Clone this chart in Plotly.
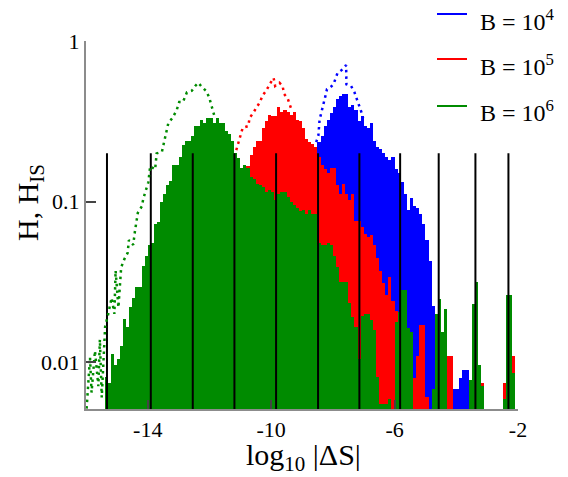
import numpy as np
import plotly.graph_objects as go

# ---------------- data ----------------
BIN = 0.1  # histogram bin width in log10|dS|

# log10 of histogram height H, one value per bin, starting at the given left edge
GREEN_X0 = -15.4
GREEN_LOGH = [
    -2.09, -2.13, -1.95, -2.02, -1.98, -1.90, -1.73, -1.78, -1.66, -1.60,
    -1.53, -1.53, -1.40, -1.34, -1.27, -1.26, -1.14, -1.13, -1.00, -0.95,
    -0.90, -0.87, -0.77, -0.77, -0.72, -0.65, -0.62, -0.62, -0.59, -0.53,
    -0.53, -0.49, -0.51, -0.48, -0.48, -0.51, -0.48, -0.51, -0.51, -0.56,
    -0.58, -0.62, -0.70, -0.73, -0.79, -0.77, -0.79, -0.85, -0.86, -0.89,
    -0.90, -0.91, -0.94, -0.93, -0.94, -0.99, -0.95, -0.94, -0.94, -0.97,
    -1.00, -1.02, -1.04, -1.06, -1.05, -1.08, -1.05, -1.08, -1.08, -1.26,
    -1.27, -1.27, -1.26, -1.27, -1.34, -1.41, -1.50, -1.50, -1.50, -1.63,
    -1.72, -1.78, -1.98, -1.71, -1.70, -1.70, -1.74, -1.80, -2.09, -2.26,
    -2.26, -2.26, -2.23, None, -1.75, -1.69, -1.55, -1.55, -1.79, -1.81,
    None, None, None, None, None, None, -2.17, -1.70, -1.61, -1.81,
    -1.67, None, None, None, None, None, None, None, -2.11, -1.64,
    -1.50, -2.02, -2.15, None, None, None, None, None, None, -2.23,
    -1.58, -1.58, -2.07,
]

RED_X0 = -11.1
RED_LOGH = [
    -0.95, -0.90, -0.80, -0.78, -0.71, -0.66, -0.62, -0.62, -0.54, -0.50,
    -0.46, -0.47, -0.47, -0.41, -0.44, -0.43, -0.44, -0.46, -0.44, -0.49,
    -0.50, -0.54, -0.61, -0.63, -0.64, -0.66, -0.72, -0.77, -0.80, -0.82,
    -0.79, -0.79, -0.90, -0.95, -0.89, -0.95, -0.99, -0.95, -1.12, -1.12,
    -1.16, -1.20, -1.22, -1.21, -1.27, -1.35, -1.43, -1.51, -1.58, -1.47,
    -1.62, -1.68, -1.69, -1.75, -1.85, -1.98, -1.98, -2.10, -1.96, -1.77,
    -1.77, -2.22, None, None, None, None, None, -2.09, -1.96, -1.96,
    None, None, None, None, None, None, -1.90, -2.00, -2.02, -2.13,
    None, None, None, None, None, None, -2.13, -1.90, -1.90, -1.96,
]

BLUE_X0 = -8.6
BLUE_LOGH = [
    -0.70, -0.63, -0.59, -0.53, -0.49, -0.45, -0.41, -0.36, -0.34, -0.33,
    -0.33, -0.41, -0.40, -0.43, -0.50, -0.47, -0.53, -0.54, -0.51, -0.62,
    -0.66, -0.67, -0.70, -0.72, -0.74, -0.72, -0.80, -0.82, -0.88, -0.95,
    -1.05, -0.98, -1.03, -1.04, -1.08, -1.14, -1.24, -1.37, -1.65, -2.20,
    None, None, None, None, None, -2.17, -2.17, -2.10, -2.05, -2.05,
    -2.28, None, None, None, None, None, None, None, None, None,
    None, -2.27,
]

# dotted curves (H_IS): x = log10|dS|, value = log10 H_IS
GREEN_IS_X = [-15.98, -15.87, -15.82, -15.71, -15.60, -15.55, -15.49, -15.38, -15.28, -15.17,
              -15.08, -15.04, -14.95, -14.86, -14.76, -14.65, -14.61, -14.47, -14.41, -14.32,
              -14.19, -14.14, -13.98, -13.92, -13.76, -13.71, -13.54, -13.44, -13.33, -13.20,
              -13.06, -12.98, -12.86, -12.73, -12.57, -12.46, -12.36, -12.23, -12.11, -12.01,
              -11.95, -11.87, -11.82]
GREEN_IS_LOGH = [-2.29, -1.97, -2.19, -1.93, -2.15, -1.86, -2.22, -1.78, -1.70, -1.60,
                 -1.70, -1.43, -1.66, -1.41, -1.36, -1.32, -1.24, -1.27, -1.18, -1.07,
                 -1.03, -0.98, -0.88, -0.78, -0.80, -0.70, -0.69, -0.61, -0.51, -0.48,
                 -0.43, -0.38, -0.38, -0.32, -0.31, -0.28, -0.26, -0.29, -0.31, -0.35,
                 -0.39, -0.43, -0.48]

RED_IS_X = [-11.13, -11.06, -10.98, -10.92, -10.74, -10.70, -10.59, -10.49, -10.36, -10.28,
            -10.16, -10.05, -9.92, -9.87, -9.73, -9.63, -9.58, -9.46, -9.38, -9.32]
RED_IS_LOGH = [-0.68, -0.63, -0.59, -0.54, -0.53, -0.48, -0.45, -0.42, -0.38, -0.34,
               -0.31, -0.27, -0.23, -0.28, -0.26, -0.28, -0.33, -0.36, -0.40, -0.44]

BLUE_IS_X = [-8.54, -8.47, -8.43, -8.36, -8.25, -8.19, -8.09, -7.98, -7.92, -7.85,
             -7.71, -7.57, -7.56, -7.41, -7.30, -7.22, -7.14, -7.08, -7.02]
BLUE_IS_LOGH = [-0.63, -0.59, -0.49, -0.44, -0.35, -0.30, -0.29, -0.27, -0.24, -0.20,
                -0.18, -0.15, -0.27, -0.28, -0.32, -0.36, -0.40, -0.44, -0.48]

# vertical black marker lines
MARK_X = [-15.32, -13.90, -12.54, -11.19, -9.84, -8.48, -7.14, -5.82, -4.57, -3.38, -2.31]
MARK_TOP = 0.2
MARK_BASE = 0.001

X_TICKS = [-14, -10, -6, -2]
X_TICK_TEXT = ["-14", "-10", "-6", "-2"]
Y_TICKS = [0.01, 0.1, 1]
Y_TICK_TEXT = ["0.01", "0.1", "1"]
X_RANGE = [-16, -2]
Y_RANGE = [0.0051, 1.0]

SERIES_NAMES = ["B = 10<sup>4</sup>", "B = 10<sup>5</sup>", "B = 10<sup>6</sup>"]
COLORS = ["#0000ff", "#ff0000", "#008b00"]

# ---------------- figure ----------------
FONT = "Liberation Serif"
OFF = 8                      # page body margin of the html page
W, H = 568 - OFF, 477 - OFF
ML, MT = 86 - OFF, 41 - OFF
MR = W - (518 - OFF)
MB = H - (409 - OFF)
PW, PH = W - ML - MR, H - MT - MB


def px2paper_x(px):  # page pixel -> paper
    return (px - OFF - ML) / PW


def py2paper_y(py):
    return (H - MB - (py - OFF)) / PH


def to_lin(vals):
    return [None if v is None else 10 ** v for v in vals]


fig = go.Figure()

for x0, logh, col in [(BLUE_X0, BLUE_LOGH, COLORS[0]),
                      (RED_X0, RED_LOGH, COLORS[1]),
                      (GREEN_X0, GREEN_LOGH, COLORS[2])]:
    centers = x0 + BIN * (np.arange(len(logh)) + 0.5)
    fig.add_trace(go.Bar(x=centers, y=to_lin(logh), width=BIN,
                         marker=dict(color=col, line=dict(width=0)),
                         showlegend=False, hoverinfo="skip"))

# vertical marker lines
mx, my = [], []
for x in MARK_X:
    mx += [x, x, None]
    my += [MARK_BASE, MARK_TOP, None]
fig.add_trace(go.Scatter(x=mx, y=my, mode="lines",
                         line=dict(color="black", width=2),
                         showlegend=False, hoverinfo="skip"))

# dotted H_IS curves
for xs, ls, col in [(GREEN_IS_X, GREEN_IS_LOGH, COLORS[2]),
                    (RED_IS_X, RED_IS_LOGH, COLORS[1]),
                    (BLUE_IS_X, BLUE_IS_LOGH, COLORS[0])]:
    fig.add_trace(go.Scatter(x=xs, y=to_lin(ls), mode="lines",
                             line=dict(color=col, width=2.5, dash="2.5px,4px"),
                             showlegend=False, hoverinfo="skip"))

axis_common = dict(showgrid=False, zeroline=False, showline=True,
                   linecolor="#8c8c8c", linewidth=2,
                   ticks="inside", tickcolor="#444", tickwidth=1.5,
                   tickfont=dict(family=FONT, size=22, color="black"))

fig.update_xaxes(range=X_RANGE, tickmode="array", tickvals=X_TICKS,
                 ticktext=X_TICK_TEXT, ticklen=9, ticklabelstandoff=0, **axis_common)
fig.update_yaxes(type="log", range=[np.log10(Y_RANGE[0]), np.log10(Y_RANGE[1])],
                 tickmode="array", tickvals=Y_TICKS, ticktext=Y_TICK_TEXT,
                 ticklen=10, **axis_common)

annotations = [
    dict(text="log<sub>10</sub> |ΔS|", xref="paper", yref="paper",
         x=px2paper_x(303), y=py2paper_y(457), xanchor="center", yanchor="middle",
         showarrow=False, font=dict(family=FONT, size=30, color="black")),
    dict(text="H, H<sub>IS</sub>", xref="paper", yref="paper", textangle=-90,
         x=px2paper_x(30), y=py2paper_y(203), xanchor="center", yanchor="middle",
         showarrow=False, font=dict(family=FONT, size=30, color="black")),
]
shapes = []
legend_line_py = [14, 59, 106]
legend_text_py = [20, 65, 111]
for name, col, lpy, tpy in zip(SERIES_NAMES, COLORS, legend_line_py, legend_text_py):
    shapes.append(dict(type="line", xref="paper", yref="paper",
                       x0=px2paper_x(437), x1=px2paper_x(467),
                       y0=py2paper_y(lpy), y1=py2paper_y(lpy),
                       line=dict(color=col, width=2)))
    annotations.append(dict(text=name, xref="paper", yref="paper",
                            x=px2paper_x(478), y=py2paper_y(tpy),
                            xanchor="left", yanchor="middle", showarrow=False,
                            font=dict(family=FONT, size=24, color="black")))

fig.update_layout(width=W, height=H,
                  margin=dict(l=ML, r=MR, t=MT, b=MB, pad=0),
                  paper_bgcolor="white", plot_bgcolor="white",
                  barmode="overlay", bargap=0,
                  showlegend=False,
                  annotations=annotations, shapes=shapes,
                  font=dict(family=FONT))

fig.write_html("out.html")
